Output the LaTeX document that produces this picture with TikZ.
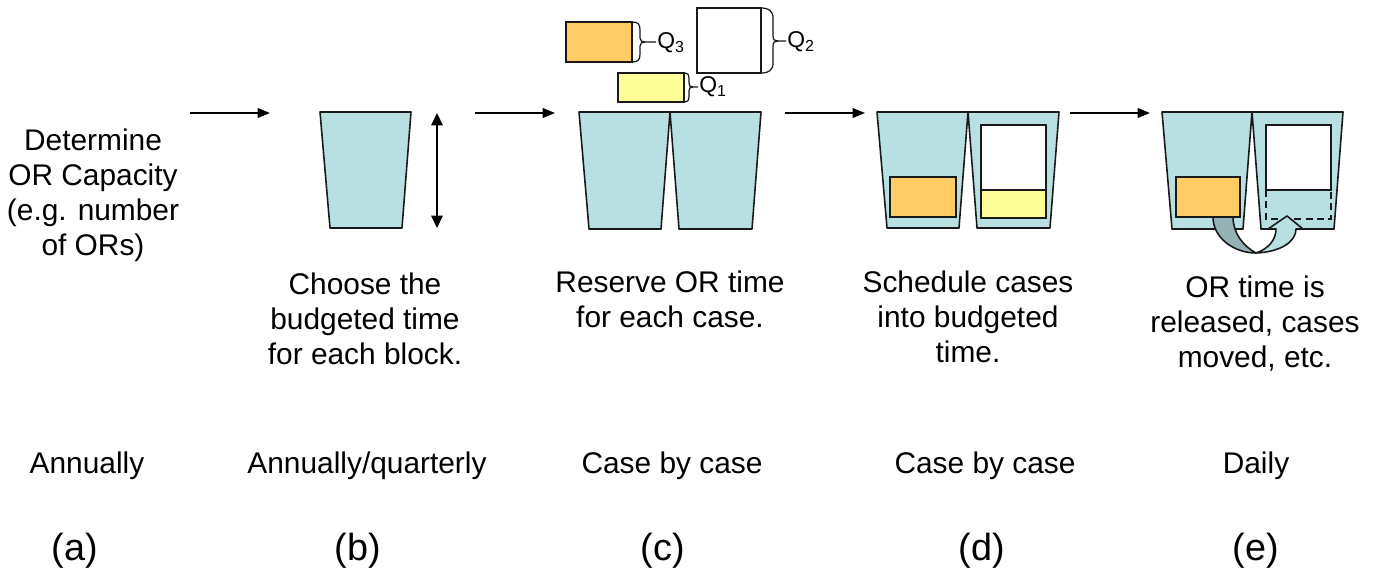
\documentclass[tikz,border=0pt]{standalone}
\usepackage{fontspec}
\setmainfont{Liberation Sans}
\usetikzlibrary{arrows.meta}
\definecolor{cupblue}{RGB}{184,223,226}
\definecolor{caseorange}{RGB}{255,204,102}
\definecolor{caseyellow}{RGB}{255,255,153}
\definecolor{arrowdark}{RGB}{149,179,183}
\definecolor{linegray}{RGB}{25,25,25}
\tikzset{
  cup/.style={draw=linegray, fill=cupblue, line width=0.9pt, line join=round},
  orangebox/.style={draw=linegray, fill=caseorange, line width=0.9pt},
  yellowbox/.style={draw=linegray, fill=caseyellow, line width=0.9pt},
  whitebox/.style={draw=linegray, fill=white, line width=0.9pt},
  flow/.style={-{Triangle[length=7pt,width=5.5pt]}, line width=0.9pt, draw=black},
  txt/.style={font=\fontsize{17}{20}\selectfont, align=center, inner sep=0pt},
  lbl/.style={font=\fontsize{21.5}{25}\selectfont, inner sep=0pt, anchor=base},
  qlbl/.style={font=\fontsize{13}{15}\selectfont, inner sep=0pt, anchor=west},
  brace/.style={draw=linegray, line width=0.7pt}
}
\begin{document}
\begin{tikzpicture}[x=0.02cm, y=-0.02cm]
\useasboundingbox (0,0) rectangle (1378,575);

% --- (a) text
\node[txt, anchor=north] (detText) at (93,128) {Determine\\OR Capacity\\(e.g. number\\of ORs)};

% --- flow arrows
\coordinate (a1) at (190,113); \coordinate (a2) at (270,113);
\coordinate (b1) at (475,113); \coordinate (b2) at (555,113);
\coordinate (c1) at (785,113); \coordinate (c2) at (865,113);
\coordinate (d1) at (1070,113); \coordinate (d2) at (1150,113);
\draw[flow] (a1) -- (a2);
\draw[flow] (b1) -- (b2);
\draw[flow] (c1) -- (c2);
\draw[flow] (d1) -- (d2);

% --- (b) cup and height arrow
\draw[cup] (320,112) -- (411,112) -- (402,228) -- (330,228) -- cycle;
\coordinate (h1) at (437,113); \coordinate (h2) at (437,228);
\draw[{Triangle[length=7pt,width=6.5pt]}-{Triangle[length=7pt,width=6.5pt]}, line width=0.9pt] (h1) -- (h2);

% --- (c) cups
\draw[cup] (579,112) -- (670,112) -- (661,229) -- (589,229) -- cycle;
\draw[cup] (670,112) -- (761,112) -- (752,229) -- (679,229) -- cycle;

% Q boxes
\draw[orangebox] (566,22) rectangle (632,62);
\draw[whitebox] (697,8) rectangle (761,73);
\draw[yellowbox] (618,73) rectangle (684,102);
% braces
\draw[brace] (632,22) .. controls (638,22) and (640,24) .. (640,30) -- (640,38)
   .. controls (640,41) and (642,42) .. (645,42) -- (656,42);
\draw[brace] (632,62) .. controls (638,62) and (640,60) .. (640,54) -- (640,46)
   .. controls (640,43) and (642,42) .. (645,42);
\draw[brace] (761,8) .. controls (769,8) and (773,11) .. (773,18) -- (773,36)
   .. controls (773,40) and (775,41) .. (778,41) -- (786,41);
\draw[brace] (761,73) .. controls (769,73) and (773,70) .. (773,63) -- (773,46)
   .. controls (773,42) and (775,41) .. (778,41);
\draw[brace] (684,73) .. controls (688,73) and (689,75) .. (689,79) -- (689,83)
   .. controls (689,86) and (690,87) .. (693,87) -- (698,87);
\draw[brace] (684,102) .. controls (688,102) and (689,100) .. (689,96) -- (689,91)
   .. controls (689,88) and (690,87) .. (693,87);
\node[qlbl] (q3) at (657,43) {Q\textsubscript{3}};
\node[qlbl] (q2) at (787,42) {Q\textsubscript{2}};
\node[qlbl] (q1) at (699,87) {Q\textsubscript{1}};

% --- (d) cups
\draw[cup] (877,112) -- (968,112) -- (959,228) -- (887,228) -- cycle;
\draw[cup] (968,112) -- (1059,112) -- (1050,228) -- (977,228) -- cycle;
\draw[orangebox] (890,177) rectangle (956,217);
\draw[whitebox] (981,125) rectangle (1046,190);
\draw[yellowbox] (981,190) rectangle (1046,218);

% --- (e) cups
\draw[cup] (1162,112) -- (1252,112) -- (1243,229) -- (1172,229) -- cycle;
\draw[cup] (1252,112) -- (1343,112) -- (1334,229) -- (1261,229) -- cycle;
\draw[orangebox] (1176,177) rectangle (1240,217);
\draw[draw=linegray, line width=0.9pt, dashed, dash pattern=on 4pt off 2.5pt] (1266,190) rectangle (1331,219);
\draw[whitebox] (1266,125) rectangle (1331,190);
% curved arrow
\draw[draw=linegray, fill=arrowdark, line width=0.9pt, line join=round]
  (1213,217) .. controls (1213,238) and (1234,253) .. (1256,253)
  .. controls (1243,246) and (1233,233) .. (1233,217) -- cycle;
\draw[draw=linegray, fill=cupblue, line width=0.9pt, line join=round]
  (1256,253) .. controls (1280,252) and (1296,242) .. (1296,229)
  -- (1303,229) -- (1287,216) -- (1268,229) -- (1276,229)
  .. controls (1276,240) and (1268,249) .. (1256,253) -- cycle;

% --- descriptive texts
\node[txt, anchor=north] (bText) at (365,272) {Choose the\\budgeted time\\for each block.};
\node[txt, anchor=north] (cText) at (670,270) {Reserve OR time\\for each case.};
\node[txt, anchor=north] (dText) at (968,270) {Schedule cases\\into budgeted\\time.};
\node[txt, anchor=north] (eText) at (1255,275) {OR time is\\released, cases\\moved, etc.};

% --- frequency row
\node[txt, anchor=base] (aFreq) at (87,473) {Annually};
\node[txt, anchor=base] (bFreq) at (367,473) {Annually/quarterly};
\node[txt, anchor=base] (cFreq) at (672,473) {Case by case};
\node[txt, anchor=base] (dFreq) at (985,473) {Case by case};
\node[txt, anchor=base] (eFreq) at (1256,473) {Daily};

% --- letters
\node[lbl] (aLbl) at (75,560) {(a)};
\node[lbl] (bLbl) at (358,560) {(b)};
\node[lbl] (cLbl) at (663,560) {(c)};
\node[lbl] (dLbl) at (982,560) {(d)};
\node[lbl] (eLbl) at (1256,560) {(e)};
\end{tikzpicture}
\end{document}
